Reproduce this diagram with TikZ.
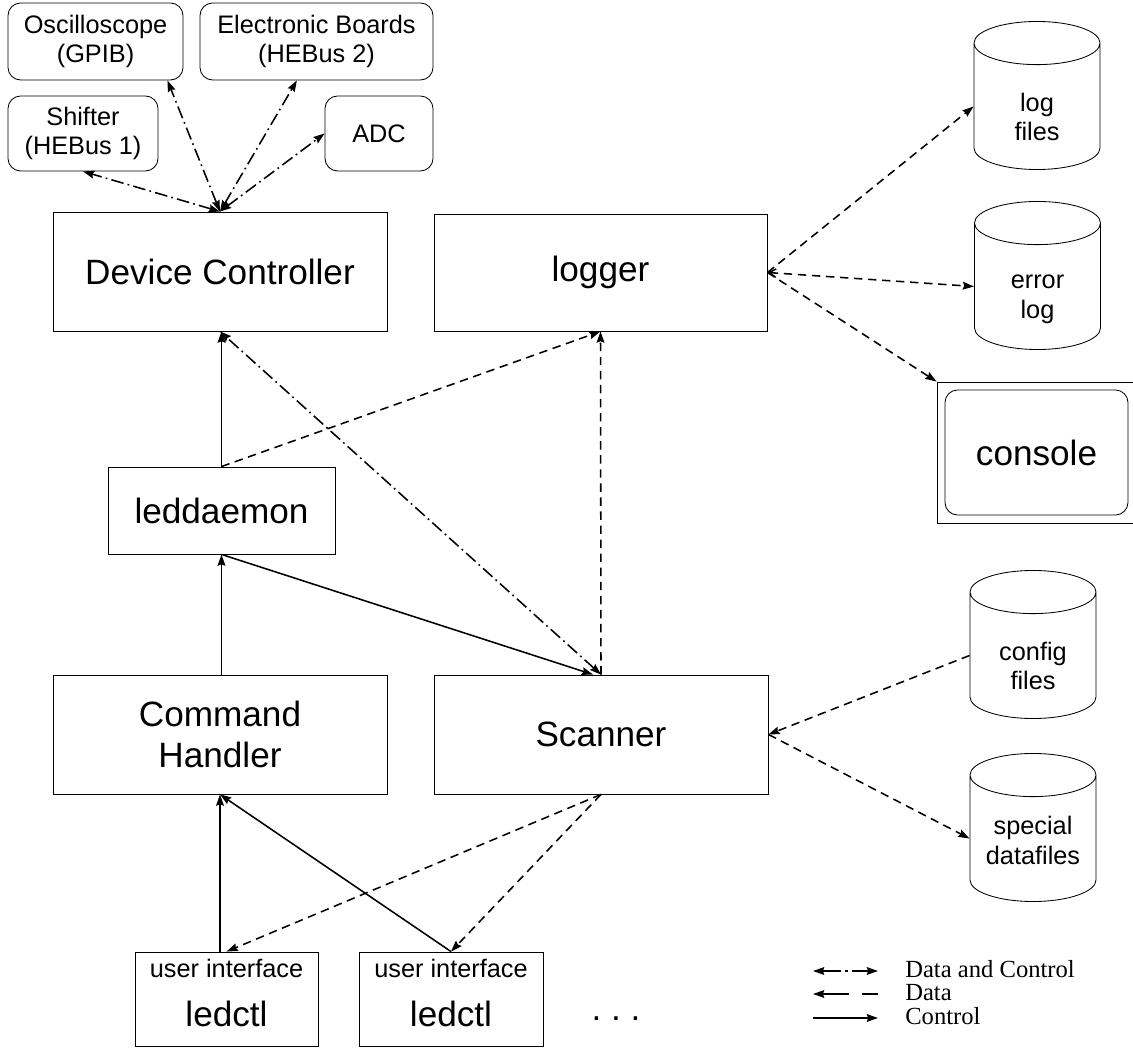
\documentclass[tikz,border=0pt]{standalone}
\usepackage{fontspec}
\setmainfont{Liberation Sans}
\newfontfamily\legendfont{Liberation Serif}
\usepackage{tikz}
\usetikzlibrary{positioning, shapes.geometric, arrows.meta}

\newcommand\storelabel[3][28pt]{\rule{0pt}{#1}\makebox[1.4cm]{#2}\\\makebox[1.4cm]{#3}}

\begin{document}
\begin{tikzpicture}[
  x=0.025cm, y=-0.025cm,
  every node/.style={font=\fontsize{18}{21}\selectfont},
  unit/.style={draw, line width=0.6pt, align=center, inner sep=0pt,
               font=\fontsize{25}{29}\selectfont},
  device/.style={draw, line width=0.6pt, rounded corners=9pt, align=center,
                 inner sep=0pt},
  store/.style={cylinder, draw, line width=0.6pt, shape border rotate=90,
                aspect=0.77, align=center, inner sep=0pt, anchor=shape center,
                minimum width=3.15cm, minimum height=3.7cm},
  legend/.style={font=\legendfont\fontsize{17.5}{20}\selectfont,
                 anchor=base west, inner sep=0pt},
  ctrl/.style={-{Stealth[length=8pt,width=5.5pt,inset=1pt]}, line width=1.1pt},
  data/.style={-{Stealth[length=8pt,width=5.5pt,inset=1pt]}, line width=1.1pt,
               dash pattern=on 6pt off 4pt},
  datactl/.style={{Stealth[length=8pt,width=5.5pt,inset=1pt]}-{Stealth[length=8pt,width=5.5pt,inset=1pt]},
                  line width=1.1pt, dash pattern=on 9pt off 3pt on 1.2pt off 3pt}
]
\useasboundingbox (0,0) rectangle (1133,1049);

% ---- HARDWARE ----
\node[device, minimum width=4.375cm, minimum height=1.925cm] (osc)
  at (95.5, 41.5) {Oscilloscope\\(GPIB)};
\node[device, minimum width=5.825cm, minimum height=1.925cm] (boards)
  at (316.5, 41.5) {Electronic Boards\\(HEBus 2)};
\node[device, minimum width=3.75cm, minimum height=1.875cm] (shifter)
  at (83, 133.5) {Shifter\\(HEBus 1)};
\node[device, minimum width=2.7cm, minimum height=1.875cm] (adc)
  at (379, 133.5) {ADC};

% ==== PROCESSES ====
\node[unit, minimum width=8.35cm, minimum height=2.975cm] (devctl)
  at (220, 271.5) {Device Controller};
\node[unit, minimum width=8.325cm, minimum height=2.925cm] (logger)
  at (600.5, 272.5) {logger};
\node[unit, minimum width=5.675cm, minimum height=2.175cm] (leddaemon)
  at (221.5, 510.5) {leddaemon};
\node[unit, minimum width=8.35cm, minimum height=2.975cm] (cmdh)
  at (220, 734.5) {Command\\Handler};
\node[unit, minimum width=8.35cm, minimum height=2.975cm] (scanner)
  at (601, 734.5) {Scanner};

% ---- user interfaces ----
\node[unit, font=\fontsize{18}{21}\selectfont, minimum width=4.575cm,
      minimum height=2.35cm] (ledctlA)
  at (226.5, 999) {user interface\\[14pt]{\fontsize{25}{29}\selectfont ledctl}\rule[-9pt]{0pt}{9pt}};
\node[unit, font=\fontsize{18}{21}\selectfont, minimum width=4.6cm,
      minimum height=2.35cm] (ledctlB)
  at (451, 999) {user interface\\[14pt]{\fontsize{25}{29}\selectfont ledctl}\rule[-9pt]{0pt}{9pt}};
\node[font=\fontsize{25}{29}\selectfont, anchor=base] (more)
  at (616, 1020) {.\ .\ .};

% ==== FILES ====
\node[store] (logfiles) at (1037, 95.5) {\storelabel{log}{files}};
\node[store] (errorlog) at (1037.5, 275.5) {\storelabel{error}{log}};
\node[draw, line width=0.6pt, minimum width=4.925cm, minimum height=3.525cm]
  (conframe) at (1035.5, 452.5) {};
\node[device, font=\fontsize{25}{29}\selectfont, minimum width=4.575cm,
      minimum height=3.125cm] (console)
  at (1036.5, 452.5) {console};
\node[store] (config) at (1033, 644.5) {\storelabel{config}{files}};
\node[store] (special) at (1033, 827.5) {\storelabel[16pt]{special}{datafiles}};

% ---- data and control ----
\draw[datactl] (devctl.north) -- (shifter.south);
\draw[datactl] (devctl.north) -- ([xshift=-0.4cm]osc.south east);
\draw[datactl] (devctl.north) -- ([xshift=-0.49cm]boards.south);
\draw[datactl] (devctl.north) -- (adc.west);
\draw[datactl] (scanner.north) -- (devctl.south);

% ---- control ----
\draw[ctrl] (leddaemon.north) -- (leddaemon.north |- devctl.south);
\draw[ctrl] (cmdh.north -| leddaemon.south) -- (leddaemon.south);
\draw[ctrl] (leddaemon.south) -- ([xshift=-0.2cm]scanner.north);
\draw[ctrl] (ledctlA.north -| cmdh.south) -- (cmdh.south);
\draw[ctrl] (ledctlB.north) -- (cmdh.south);

% ---- data ----
\draw[data] (leddaemon.north) -- (logger.south);
\draw[data] (scanner.north) -- (logger.south);
\draw[data] (logger.east) -- (logfiles.west);
\draw[{Straight Barb[length=5pt,width=6pt]}-{Stealth[length=8pt,width=5.5pt,inset=1pt]},
      line width=1.1pt, dash pattern=on 6pt off 4pt] (logger.east) -- (errorlog.west);
\draw[data] (logger.east) -- (conframe.north west);
\draw[data] (config.west) -- (scanner.east);
\draw[data] (scanner.east) -- (special.west);
\draw[data] (scanner.south) -- (ledctlA.north);
\draw[data] (scanner.south) -- (ledctlB.north);

% ---- LEGEND ----
\coordinate (dcA) at (813, 971);
\coordinate (dcB) at (878, 971);
\coordinate (dA) at (813, 994);
\coordinate (dB) at (878, 994);
\coordinate (cA) at (813, 1018);
\coordinate (cB) at (878, 1018);
\draw[datactl, dash pattern=on 13pt off 3pt on 2pt off 3pt] (dcA) -- (dcB);
\draw[{Stealth[length=8pt,width=5.5pt,inset=1pt]}-, line width=1.1pt,
      dash pattern=on 19pt off 9pt] (dA) -- (dB);
\draw[ctrl] (cA) -- (cB);
\node[legend] (lgdc) at (905, 977) {Data and Control};
\node[legend] (lgd) at (905, 1000) {Data};
\node[legend] (lgc) at (905, 1024) {Control};

\end{tikzpicture}
\end{document}
